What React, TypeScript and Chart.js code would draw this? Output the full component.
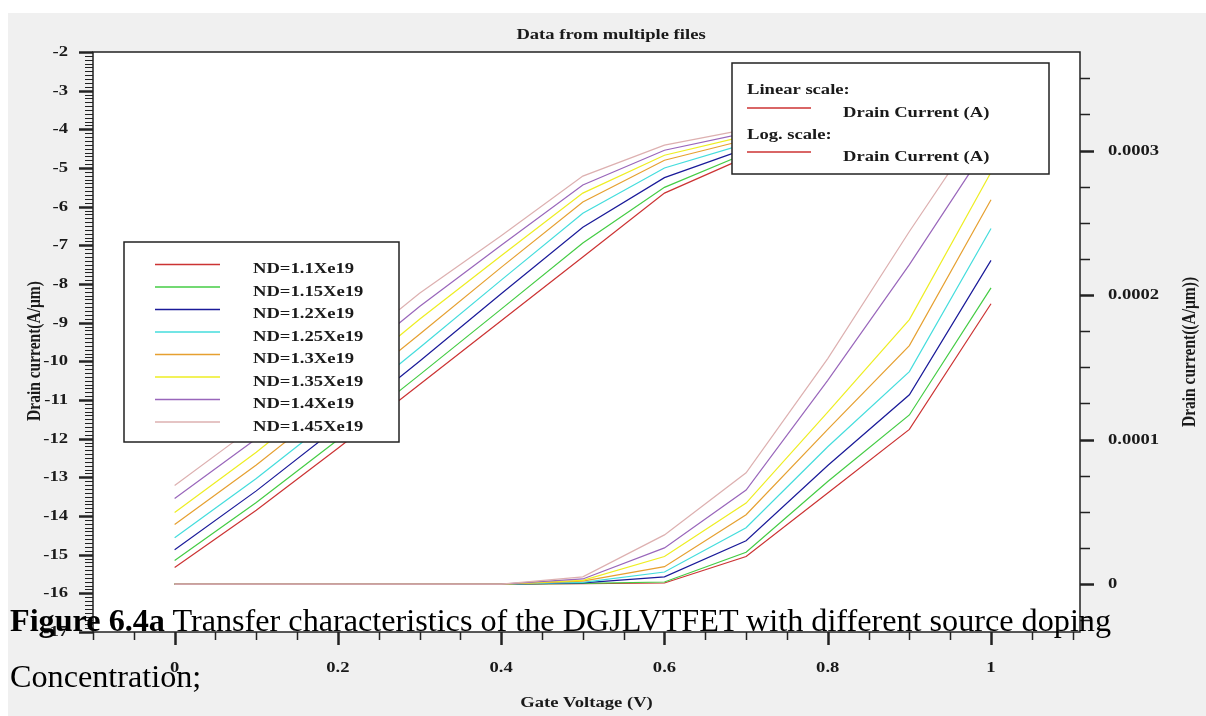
import React, { useEffect, useRef } from "react";
import { Chart, registerables } from "chart.js";

Chart.register(...registerables);

// ---------- data ----------
const gateVoltage = [0, 0.1, 0.2, 0.3, 0.4, 0.5, 0.6, 0.7, 0.8, 0.9, 1.0];

const seriesLabels = [
  "ND=1.1Xe19",
  "ND=1.15Xe19",
  "ND=1.2Xe19",
  "ND=1.25Xe19",
  "ND=1.3Xe19",
  "ND=1.35Xe19",
  "ND=1.4Xe19",
  "ND=1.45Xe19",
];

const seriesColors = [
  "#cc3333",
  "#44cc44",
  "#1a1a99",
  "#44dddd",
  "#e6a030",
  "#eeee22",
  "#9966bb",
  "#ddb0b0",
];

// log10 of drain current (left axis)
const logNd110 = [-15.33, -13.85, -12.25, -10.6, -8.95, -7.3, -5.65, -4.72, -4.2, -3.85, -3.6];
const logNd115 = [-15.15, -13.65, -12.03, -10.35, -8.65, -6.94, -5.5, -4.62, -4.12, -3.78, -3.54];
const logNd120 = [-14.87, -13.35, -11.7, -10.0, -8.25, -6.53, -5.25, -4.5, -4.03, -3.7, -3.47];
const logNd125 = [-14.56, -13.03, -11.37, -9.65, -7.9, -6.17, -5.0, -4.37, -3.93, -3.62, -3.4];
const logNd130 = [-14.22, -12.68, -11.01, -9.3, -7.57, -5.88, -4.8, -4.27, -3.85, -3.56, -3.35];
const logNd135 = [-13.91, -12.35, -10.65, -8.91, -7.27, -5.65, -4.67, -4.17, -3.78, -3.5, -3.3];
const logNd140 = [-13.55, -12.0, -10.31, -8.58, -7.0, -5.44, -4.54, -4.09, -3.72, -3.45, -3.26];
const logNd145 = [-13.21, -11.65, -9.95, -8.24, -6.75, -5.21, -4.41, -4.0, -3.65, -3.4, -3.22];

// linear drain current (right axis)
const linNd110 = [0, 0, 0, 0, 0, 2e-7, 7e-7, 1.9e-5, 6.3e-5, 1.07e-4, 1.94e-4];
const linNd115 = [0, 0, 0, 0, 0, 4e-7, 1.4e-6, 2.2e-5, 7.1e-5, 1.17e-4, 2.05e-4];
const linNd120 = [0, 0, 0, 0, 0, 8e-7, 5e-6, 3.0e-5, 8.2e-5, 1.31e-4, 2.24e-4];
const linNd125 = [0, 0, 0, 0, 0, 1.2e-6, 8.3e-6, 3.9e-5, 9.5e-5, 1.47e-4, 2.46e-4];
const linNd130 = [0, 0, 0, 0, 0, 2e-6, 1.2e-5, 4.8e-5, 1.07e-4, 1.65e-4, 2.66e-4];
const linNd135 = [0, 0, 0, 0, 0, 2.5e-6, 1.9e-5, 5.6e-5, 1.19e-4, 1.83e-4, 2.85e-4];
const linNd140 = [0, 0, 0, 0, 0, 3.5e-6, 2.5e-5, 6.5e-5, 1.41e-4, 2.21e-4, 3.07e-4];
const linNd145 = [0, 0, 0, 0, 0, 5e-6, 3.4e-5, 7.7e-5, 1.56e-4, 2.44e-4, 3.28e-4];

const logSeries = [logNd110, logNd115, logNd120, logNd125, logNd130, logNd135, logNd140, logNd145];
const linSeries = [linNd110, linNd115, linNd120, linNd125, linNd130, linNd135, linNd140, linNd145];

const xTickValues = [0, 0.2, 0.4, 0.6, 0.8, 1];
const xTickLabels = ["0", "0.2", "0.4", "0.6", "0.8", "1"];
const leftTickValues = [-17, -16, -15, -14, -13, -12, -11, -10, -9, -8, -7, -6, -5, -4, -3, -2];
const leftTickLabels = ["-17", "-16", "-15", "-14", "-13", "-12", "-11", "-10", "-9", "-8", "-7", "-6", "-5", "-4", "-3", "-2"];
const rightTickValues = [0, 0.0001, 0.0002, 0.0003];
const rightTickLabels = ["0", "0.0001", "0.0002", "0.0003"];

const chartTitle = "Data from multiple files";
const xTitle = "Gate Voltage (V)";
const leftTitle = "Drain current(A/\u03bcm)";
const rightTitle = "Drain current((A/\u03bcm))";
const scaleLegend = ["Linear scale:", "Drain Current (A)", "Log. scale:", "Drain Current (A)"];

// ---------- styling ----------
const FONT = 'bold 15.5px "Liberation Serif", "Times New Roman", serif';
const SX = 1.2;
const TEXT = "#1a1a1a";
const AXIS = "#222222";

function sText(ctx: CanvasRenderingContext2D, text: string, x: number, y: number, align: CanvasTextAlign, rot = 0) {
  ctx.save();
  ctx.translate(x, y);
  ctx.scale(SX, 1);
  if (rot) ctx.rotate(rot);
  ctx.font = FONT;
  ctx.fillStyle = TEXT;
  ctx.textAlign = align;
  ctx.textBaseline = "middle";
  ctx.fillText(text, 0, 0);
  ctx.restore();
}

function line(ctx: CanvasRenderingContext2D, x1: number, y1: number, x2: number, y2: number, w: number, c: string) {
  ctx.save();
  ctx.strokeStyle = c;
  ctx.lineWidth = w;
  ctx.beginPath();
  ctx.moveTo(x1, y1);
  ctx.lineTo(x2, y2);
  ctx.stroke();
  ctx.restore();
}

const backgroundPlugin = {
  id: "bgPlugin",
  beforeDraw(chart: any) {
    const { ctx, width, height, chartArea } = chart;
    ctx.save();
    ctx.fillStyle = "#ffffff";
    ctx.fillRect(0, 0, width, height);
    ctx.fillStyle = "#f0f0f0";
    ctx.fillRect(8, 13, width - 8, height - 13);
    ctx.fillStyle = "#ffffff";
    ctx.fillRect(chartArea.left, chartArea.top, chartArea.right - chartArea.left, chartArea.bottom - chartArea.top);
    ctx.restore();
  },
};

const decorPlugin = {
  id: "decorPlugin",
  afterDraw(chart: any) {
    const { ctx, chartArea, scales } = chart;
    const { left, right, top, bottom } = chartArea;
    const xs = scales.x;
    const yl = scales.yLog;
    const yr = scales.yLin;

    // frame
    ctx.save();
    ctx.strokeStyle = AXIS;
    ctx.lineWidth = 1.5;
    ctx.strokeRect(left, top, right - left, bottom - top);
    ctx.restore();

    // left ticks (major 1, minor 0.1)
    for (let i = Math.ceil(yl.min * 10); i <= Math.floor(yl.max * 10); i++) {
      const y = Math.round(yl.getPixelForValue(i / 10)) + 0.5;
      if (i % 10 === 0) line(ctx, left - 14, y, left, y, 2.5, AXIS);
      else line(ctx, left - 8, y, left, y, 1, AXIS);
    }
    leftTickValues.forEach((v, k) => sText(ctx, leftTickLabels[k], 68, yl.getPixelForValue(v), "right"));

    // x ticks (major 0.2, minor 0.05)
    for (let i = Math.ceil(xs.min / 0.05); i <= Math.floor(xs.max / 0.05); i++) {
      const x = Math.round(xs.getPixelForValue(i * 0.05)) + 0.5;
      if (i % 4 === 0) line(ctx, x, bottom, x, bottom + 13, 2.5, AXIS);
      else line(ctx, x, bottom, x, bottom + 8, 1.5, AXIS);
    }
    xTickValues.forEach((v, k) => sText(ctx, xTickLabels[k], xs.getPixelForValue(v), 668, "center"));

    // right ticks (major 1e-4, minor 0.25e-4)
    for (let i = Math.ceil(yr.min / 0.000025); i <= Math.floor(yr.max / 0.000025); i++) {
      const y = Math.round(yr.getPixelForValue(i * 0.000025)) + 0.5;
      if (i % 4 === 0) line(ctx, right, y, right + 14, y, 2.5, AXIS);
      else line(ctx, right, y, right + 10, y, 1.5, AXIS);
    }
    rightTickValues.forEach((v, k) => sText(ctx, rightTickLabels[k], 1108, yr.getPixelForValue(v), "left"));

    // titles
    sText(ctx, chartTitle, 611, 35, "center");
    sText(ctx, xTitle, (left + right) / 2, 703, "center");
    sText(ctx, leftTitle, 35, 351, "center", -Math.PI / 2);
    sText(ctx, rightTitle, 1190, 352, "center", -Math.PI / 2);

    // ND legend box
    ctx.save();
    ctx.fillStyle = "#ffffff";
    ctx.fillRect(124, 242, 275, 200);
    ctx.strokeStyle = AXIS;
    ctx.lineWidth = 1.5;
    ctx.strokeRect(124, 242, 275, 200);
    ctx.restore();
    seriesLabels.forEach((lab, i) => {
      const y = 264.5 + i * 22.5;
      line(ctx, 155, y, 220, y, 1.5, seriesColors[i]);
      sText(ctx, lab, 253, y + 4.5, "left");
    });

    // scale legend box
    ctx.save();
    ctx.fillStyle = "#ffffff";
    ctx.fillRect(732, 63, 317, 111);
    ctx.strokeStyle = AXIS;
    ctx.lineWidth = 1.5;
    ctx.strokeRect(732, 63, 317, 111);
    ctx.restore();
    sText(ctx, scaleLegend[0], 747, 90, "left");
    line(ctx, 747, 108, 811, 108, 1.5, seriesColors[0]);
    sText(ctx, scaleLegend[1], 843, 113, "left");
    sText(ctx, scaleLegend[2], 747, 135, "left");
    line(ctx, 747, 152, 811, 152, 1.5, seriesColors[0]);
    sText(ctx, scaleLegend[3], 843, 157, "left");
  },
};

export default function App() {
  const canvasRef = useRef<HTMLCanvasElement | null>(null);

  useEffect(() => {
    if (!canvasRef.current) return;
    const datasets: any[] = [];
    for (let i = logSeries.length - 1; i >= 0; i--) {
      datasets.push({
        label: seriesLabels[i],
        data: gateVoltage.map((v, k) => ({ x: v, y: logSeries[i][k] })),
        borderColor: seriesColors[i],
        borderWidth: 1.2,
        pointRadius: 0,
        tension: 0,
        yAxisID: "yLog",
      });
    }
    for (let i = linSeries.length - 1; i >= 0; i--) {
      datasets.push({
        label: seriesLabels[i],
        data: gateVoltage.map((v, k) => ({ x: v, y: linSeries[i][k] })),
        borderColor: seriesColors[i],
        borderWidth: 1.2,
        pointRadius: 0,
        tension: 0,
        yAxisID: "yLin",
      });
    }

    const chart = new Chart(canvasRef.current, {
      type: "line",
      data: { datasets },
      options: {
        animation: false,
        responsive: false,
        maintainAspectRatio: false,
        layout: { padding: { top: 52, left: 0, right: 0, bottom: 0 } },
        plugins: { legend: { display: false }, title: { display: false }, tooltip: { enabled: false } },
        scales: {
          x: {
            type: "linear",
            min: -0.1,
            max: 1.109,
            grid: { display: false },
            border: { display: false },
            ticks: { display: false },
            afterBuildTicks: (s: any) => {
              s.ticks = xTickValues.map((v) => ({ value: v }));
            },
            afterFit: (s: any) => {
              s.height = 84;
            },
          },
          yLog: {
            type: "linear",
            position: "left",
            min: -17,
            max: -2,
            grid: { display: false },
            border: { display: false },
            ticks: { display: false },
            afterBuildTicks: (s: any) => {
              s.ticks = leftTickValues.map((v) => ({ value: v }));
            },
            afterFit: (s: any) => {
              s.width = 93;
            },
          },
          yLin: {
            type: "linear",
            position: "right",
            min: -0.0000332,
            max: 0.0003682,
            grid: { display: false },
            border: { display: false },
            ticks: { display: false },
            afterBuildTicks: (s: any) => {
              s.ticks = rightTickValues.map((v) => ({ value: v }));
            },
            afterFit: (s: any) => {
              s.width = 126;
            },
          },
        },
      },
      plugins: [backgroundPlugin, decorPlugin],
    } as any);
    return () => chart.destroy();
  }, []);

  return (
    <div style={{ position: "absolute", left: 0, top: 0, width: 1206, height: 716, background: "#fff", overflow: "hidden" }}>
      <canvas ref={canvasRef} width={1206} height={716} style={{ display: "block", width: 1206, height: 716 }} />
      <div
        style={{
          position: "absolute",
          left: 10,
          top: 592,
          fontFamily: '"Liberation Serif", "Times New Roman", serif',
          fontSize: 32.2,
          lineHeight: "56px",
          color: "#000",
          whiteSpace: "nowrap",
        }}
      >
        <div>
          <b>Figure 6.4a</b> Transfer characteristics of the DGJLVTFET with different source doping
        </div>
        <div>Concentration;</div>
      </div>
    </div>
  );
}
